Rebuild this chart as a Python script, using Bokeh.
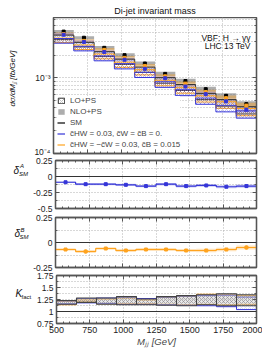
import math
from bokeh.plotting import figure
from bokeh.models import (FixedTicker, LinearAxis, LogAxis, Label, Legend, LegendItem,
                          Range1d, Span, CustomJSTickFormatter)
from bokeh.layouts import column, row
from bokeh.embed import file_html
from bokeh.resources import INLINE

# ---------------- data ----------------
edges = [500, 650, 800, 950, 1100, 1250, 1400, 1550, 1700, 1850, 2000]

# main panel: d sigma / d Mjj  [fb/GeV]
sm_nlo = [4.1e-3, 3.4e-3, 2.5e-3, 2.0e-3, 1.55e-3, 1.13e-3, 9.1e-4, 7.1e-4, 5.8e-4, 4.5e-4]
hw_nlo = [3.73e-3, 2.99e-3, 2.2e-3, 1.74e-3, 1.32e-3, 9.9e-4, 7.7e-4, 6.1e-4, 4.9e-4, 3.8e-4]
hwb_nlo = [3.81e-3, 3.09e-3, 2.35e-3, 1.84e-3, 1.44e-3, 1.05e-3, 8.4e-4, 6.5e-4, 5.4e-4, 4.3e-4]
sm_lo = [3.45e-3, 2.76e-3, 2.07e-3, 1.64e-3, 1.29e-3, 9.3e-4, 7.5e-4, 5.7e-4, 4.7e-4, 3.75e-4]
hw_lo = [3.1e-3, 2.45e-3, 1.82e-3, 1.43e-3, 1.1e-3, 8.2e-4, 6.4e-4, 4.95e-4, 3.95e-4, 3.3e-4]
hwb_lo = [3.15e-3, 2.55e-3, 1.93e-3, 1.5e-3, 1.19e-3, 8.6e-4, 6.9e-4, 5.3e-4, 4.4e-4, 3.55e-4]
nlo_unc = [0.05, 0.05, 0.055, 0.06, 0.06, 0.065, 0.07, 0.075, 0.08, 0.09]   # relative band
lo_unc = [0.07, 0.07, 0.075, 0.08, 0.08, 0.085, 0.09, 0.095, 0.1, 0.11]
stat_err = [0.02, 0.02, 0.025, 0.025, 0.03, 0.03, 0.035, 0.04, 0.045, 0.05]

# ratio panels
delta_a = [-0.09, -0.12, -0.12, -0.13, -0.15, -0.12, -0.15, -0.14, -0.16, -0.15]
delta_a_unc = [0.012, 0.015, 0.015, 0.015, 0.018, 0.02, 0.02, 0.02, 0.022, 0.025]
delta_a_err = [0.015, 0.02, 0.02, 0.015, 0.015, 0.02, 0.015, 0.02, 0.02, 0.025]
delta_b = [-0.07, -0.09, -0.06, -0.08, -0.07, -0.07, -0.08, -0.08, -0.07, -0.05]
delta_b_unc = [0.012, 0.015, 0.012, 0.015, 0.015, 0.015, 0.015, 0.018, 0.018, 0.02]
delta_b_err = [0.015, 0.02, 0.01, 0.015, 0.015, 0.012, 0.015, 0.015, 0.015, 0.02]

# K factor panel (scale-uncertainty boxes)
k_sm_lo = [1.15, 1.19, 1.15, 1.14, 1.14, 1.13, 1.12, 1.14, 1.12, 1.12]
k_sm_hi = [1.23, 1.28, 1.28, 1.31, 1.26, 1.31, 1.33, 1.35, 1.37, 1.35]
k_hw_lo = [1.16, 1.18, 1.17, 1.15, 1.15, 1.14, 1.13, 1.12, 1.10, 1.04]
k_hw_hi = [1.22, 1.27, 1.28, 1.30, 1.27, 1.30, 1.32, 1.33, 1.34, 1.30]
k_hwb_lo = [1.14, 1.20, 1.16, 1.16, 1.16, 1.15, 1.14, 1.15, 1.14, 1.15]
k_hwb_hi = [1.21, 1.24, 1.26, 1.28, 1.24, 1.30, 1.32, 1.36, 1.35, 1.33]

x_major = [500, 750, 1000, 1250, 1500, 1750, 2000]
x_minor = list(range(500, 2001, 50))

# ---------------- style ----------------
FONT = "Liberation Sans"
BLUE = "#3535d8"
ORANGE = "#ffa31f"
GREY = "#777777"
AX = "#555555"
GRID = "#b0b0b0"
TOTAL_W = 262
FRAME_LEFT = 53      # frame left edge on the page
FRAME_RIGHT_PAD = 6

left = edges[:-1]
right = edges[1:]
centers = [(a + b) / 2 for a, b in zip(left, right)]


def lin_fmt():
    return CustomJSTickFormatter(code="return String(Math.round(tick*1000)/1000);")


def log_fmt():
    return CustomJSTickFormatter(code="""
const e = Math.round(Math.log10(tick));
const m = {'-':'\u207b','0':'\u2070','1':'\u00b9','2':'\u00b2','3':'\u00b3','4':'\u2074',
           '5':'\u2075','6':'\u2076','7':'\u2077','8':'\u2078','9':'\u2079'};
return '10' + String(e).split('').map(c => m[c]).join('');
""")


def blank_fmt():
    return CustomJSTickFormatter(code="return '';")


def cfg_axis(ax, ticker, show, fmt, size="8.5px"):
    ax.ticker = ticker
    ax.axis_line_color = AX
    ax.axis_line_width = 1.3
    ax.major_tick_in = 4
    ax.major_tick_out = 0
    ax.minor_tick_in = 2
    ax.minor_tick_out = 0
    ax.major_tick_line_color = AX
    ax.minor_tick_line_color = AX
    ax.major_label_standoff = 3 if show else 0
    ax.major_label_text_font = FONT
    ax.major_label_text_font_size = size if show else "1px"
    ax.major_label_text_color = "#222222"
    ax.formatter = fmt if show else blank_fmt()


def make_fig(label_w, height, yrange, ylog, ytick, ytick_minor, top, bottom,
             xlabels=False, top_axis=True):
    p = figure(width=TOTAL_W - label_w, height=height, x_range=Range1d(500, 2000),
               y_range=yrange, y_axis_type="log" if ylog else "linear", title=None,
               output_backend="svg", toolbar_location=None,
               min_border_left=FRAME_LEFT - label_w, min_border_right=FRAME_RIGHT_PAD,
               min_border_top=top, min_border_bottom=bottom)
    p.outline_line_color = AX
    p.outline_line_width = 1.3
    bottom_ax = p.xaxis[0]
    cfg_axis(bottom_ax, FixedTicker(ticks=x_major, minor_ticks=x_minor), xlabels, lin_fmt(), "9px")
    cfg_axis(p.yaxis[0], FixedTicker(ticks=ytick, minor_ticks=ytick_minor), True,
             log_fmt() if ylog else lin_fmt())
    if top_axis:
        top_ax = LinearAxis()
        cfg_axis(top_ax, FixedTicker(ticks=x_major, minor_ticks=x_minor), False, None)
        p.add_layout(top_ax, "above")
    r_ax = LogAxis() if ylog else LinearAxis()
    cfg_axis(r_ax, FixedTicker(ticks=ytick, minor_ticks=ytick_minor), False, None)
    p.add_layout(r_ax, "right")
    p.xgrid.ticker = FixedTicker(ticks=x_major)
    p.xgrid.grid_line_color = GRID
    p.xgrid.grid_line_dash = "1 2"
    p.ygrid.ticker = FixedTicker(ticks=ytick, minor_ticks=ytick_minor)
    p.ygrid.grid_line_color = GRID
    p.ygrid.grid_line_dash = "1 2"
    p.ygrid.minor_grid_line_color = GRID
    p.ygrid.minor_grid_line_dash = "1 2"
    return p, bottom_ax


def blank_fig(width, height):
    f = figure(width=width, height=height, x_range=Range1d(0, 1), y_range=Range1d(0, 1),
               title=None, output_backend="svg", toolbar_location=None,
               x_axis_location=None, y_axis_location=None,
               min_border_left=0, min_border_right=0, min_border_top=0, min_border_bottom=0)
    f.outline_line_color = None
    f.xgrid.visible = False
    f.ygrid.visible = False
    return f


def scaled(vals, rel, sign):
    return [v * (1 + sign * r) for v, r in zip(vals, rel)]


def shifted(vals, d, sign):
    return [v + sign * e for v, e in zip(vals, d)]


def lab(p, x, y, text, size, style="normal", align="left", baseline="middle", angle=0.0):
    p.add_layout(Label(x=x, y=y, x_units="screen", y_units="screen", text=text,
                       text_align=align, text_baseline=baseline, text_font=FONT,
                       text_font_size=size, text_font_style=style, angle=angle,
                       text_color="#111111"))


# ---------------- title strip ----------------
t_fig = blank_fig(TOTAL_W, 17)
lab(t_fig, 154.5, 6.5, "Di-jet invariant mass", "9px", align="center", baseline="middle")

# ---------------- main panel ----------------
W1 = 30
log_minor = [2e-4, 3e-4, 4e-4, 5e-4, 6e-4, 7e-4, 8e-4, 9e-4, 2e-3, 3e-3, 4e-3, 5e-3, 6e-3]
p1, _ = make_fig(W1, 139, Range1d(1e-4, 6.3e-3), True, [1e-4, 1e-3], log_minor, 0, 3,
                 top_axis=False)

r_sm_nlo = p1.quad(left=left, right=right, bottom=scaled(sm_nlo, nlo_unc, -1),
                   top=scaled(sm_nlo, nlo_unc, 1), fill_color=GREY, fill_alpha=0.6, line_color=None)
p1.quad(left=left, right=right, bottom=scaled(hwb_nlo, nlo_unc, -1),
        top=scaled(hwb_nlo, nlo_unc, 1), fill_color=ORANGE, fill_alpha=0.4, line_color=None)
p1.quad(left=left, right=right, bottom=scaled(hw_nlo, nlo_unc, -1),
        top=scaled(hw_nlo, nlo_unc, 1), fill_color=BLUE, fill_alpha=0.3, line_color=None)

r_sm_lo = p1.quad(left=left, right=right, bottom=scaled(sm_lo, lo_unc, -1),
                  top=scaled(sm_lo, lo_unc, 1), fill_alpha=0, line_color="#333333",
                  line_width=1, hatch_pattern="x", hatch_color="#888888",
                  hatch_scale=4, hatch_weight=0.5)
p1.quad(left=left, right=right, bottom=scaled(hwb_lo, lo_unc, -1),
        top=scaled(hwb_lo, lo_unc, 1), fill_alpha=0, line_color=ORANGE,
        line_width=1, hatch_pattern="x", hatch_color=ORANGE, hatch_scale=4, hatch_weight=0.5)
p1.quad(left=left, right=right, bottom=scaled(hw_lo, lo_unc, -1),
        top=scaled(hw_lo, lo_unc, 1), fill_alpha=0, line_color=BLUE,
        line_width=1, hatch_pattern="x", hatch_color=BLUE, hatch_alpha=0.6,
        hatch_scale=4, hatch_weight=0.5)

r_sm_err = p1.segment(x0=centers, x1=centers, y0=scaled(sm_nlo, stat_err, -1),
                      y1=scaled(sm_nlo, stat_err, 1), line_color="black", line_width=1.2)
p1.scatter(x=centers, y=sm_nlo, marker="square", size=3, color="black")
r_hwb_err = p1.segment(x0=centers, x1=centers, y0=scaled(hwb_nlo, stat_err, -1),
                       y1=scaled(hwb_nlo, stat_err, 1), line_color=ORANGE, line_width=1.2)
p1.scatter(x=centers, y=hwb_nlo, marker="square", size=3, color=ORANGE)
r_hw_err = p1.segment(x0=centers, x1=centers, y0=scaled(hw_nlo, stat_err, -1),
                      y1=scaled(hw_nlo, stat_err, 1), line_color=BLUE, line_width=1.2)
p1.scatter(x=centers, y=hw_nlo, marker="square", size=3, color=BLUE)

legend = Legend(items=[
    LegendItem(label="LO+PS", renderers=[r_sm_lo]),
    LegendItem(label="NLO+PS", renderers=[r_sm_nlo]),
    LegendItem(label="SM", renderers=[r_sm_err]),
    LegendItem(label="c\u0303HW = 0.03, c\u0303W = c\u0303B = 0.", renderers=[r_hw_err]),
    LegendItem(label="c\u0303HW = \u2212c\u0303W = 0.03, c\u0303B = 0.015", renderers=[r_hwb_err]),
], location="bottom_left", glyph_width=8, glyph_height=7, label_height=7, label_standoff=5,
    spacing=2, padding=0, margin=4, label_text_font=FONT, label_text_font_size="8px",
    border_line_alpha=0, background_fill_color="white", background_fill_alpha=1)
p1.add_layout(legend)

lab(p1, 197, 116, "VBF: H \u2192 \u03b3\u03b3", "8.5px", align="right", baseline="alphabetic")
lab(p1, 197, 108, "LHC 13 TeV", "8.5px", align="right", baseline="alphabetic")

# label strips share the frame (top/bottom) of the panel next to them
l1 = blank_fig(W1, 139)
lab(l1, 12, 75, "d\u03c3/dM\u2c7c\u2c7c [fb/GeV]", "8px", style="italic", align="center",
    angle=math.pi / 2)

# ---------------- delta A panel ----------------
W2 = 30
p2, _ = make_fig(W2, 56, Range1d(-0.5, 0.25), False, [-0.5, -0.25, 0, 0.25],
                 [-0.375, -0.125, 0.125], 4, 4)
p2.add_layout(Span(location=0, dimension="width", line_color="#333333", line_width=1))
p2.quad(left=left, right=right, bottom=shifted(delta_a, delta_a_unc, -1),
        top=shifted(delta_a, delta_a_unc, 1), fill_color=BLUE, fill_alpha=0.25, line_color=None)
p2.step(x=edges, y=delta_a + [delta_a[-1]], mode="after", line_color=BLUE, line_width=1.2)
p2.segment(x0=centers, x1=centers, y0=shifted(delta_a, delta_a_err, -1),
           y1=shifted(delta_a, delta_a_err, 1), line_color=BLUE, line_width=1.2)
p2.scatter(x=centers, y=delta_a, marker="square", size=3, color=BLUE)
l2 = blank_fig(W2, 56)
lab(l2, 13, 38, "\u03b4", "10px", style="italic")
lab(l2, 19.5, 43, "A", "6px", style="italic")
lab(l2, 18.5, 35, "SM", "6px", style="italic")

# ---------------- delta B panel ----------------
W3 = 30
p3, _ = make_fig(W3, 59, Range1d(-0.25, 0.25), False, [-0.25, 0, 0.25], [-0.125, 0.125], 5, 4)
p3.add_layout(Span(location=0, dimension="width", line_color="#333333", line_width=1))
p3.quad(left=left, right=right, bottom=shifted(delta_b, delta_b_unc, -1),
        top=shifted(delta_b, delta_b_unc, 1), fill_color=ORANGE, fill_alpha=0.3, line_color=None)
p3.step(x=edges, y=delta_b + [delta_b[-1]], mode="after", line_color=ORANGE, line_width=1.2)
p3.segment(x0=centers, x1=centers, y0=shifted(delta_b, delta_b_err, -1),
           y1=shifted(delta_b, delta_b_err, 1), line_color=ORANGE, line_width=1.2)
p3.scatter(x=centers, y=delta_b, marker="square", size=3, color=ORANGE)
l3 = blank_fig(W3, 59)
lab(l3, 14, 34, "\u03b4", "10px", style="italic")
lab(l3, 20, 38, "B", "6px", style="italic")
lab(l3, 19, 31, "SM", "6px", style="italic")

# ---------------- K factor panel ----------------
W4 = 33
p4, x4 = make_fig(W4, 80, Range1d(0.75, 1.75), False, [0.75, 1, 1.25, 1.5, 1.75],
                  [0.875, 1.125, 1.375, 1.625], 4, 28, xlabels=True)
p4.add_layout(Span(location=1, dimension="width", line_color="#333333", line_width=1))
p4.quad(left=left, right=right, bottom=k_hwb_lo, top=k_hwb_hi, fill_alpha=0,
        line_color=ORANGE, line_width=1, hatch_pattern="x", hatch_color=ORANGE,
        hatch_alpha=0.3, hatch_scale=4, hatch_weight=0.5)
p4.quad(left=left, right=right, bottom=k_hw_lo, top=k_hw_hi, fill_alpha=0,
        line_color=BLUE, line_width=1, hatch_pattern="x", hatch_color=BLUE,
        hatch_alpha=0.3, hatch_scale=4, hatch_weight=0.5)
p4.quad(left=left, right=right, bottom=k_sm_lo, top=k_sm_hi, fill_color="#c4c4c4",
        fill_alpha=0.4, line_color="#444444", line_width=1.1, hatch_pattern="x",
        hatch_color="#8a8a8a", hatch_scale=4, hatch_weight=0.5)
x4.axis_label = "M\u2c7c\u2c7c [GeV]"
x4.axis_label_text_font = FONT
x4.axis_label_text_font_size = "9.5px"
x4.axis_label_text_font_style = "italic"
x4.axis_label_standoff = 0
l4 = blank_fig(W4, 80)
lab(l4, 15, 30, "K", "10px", style="italic")
lab(l4, 21, 27, "fact", "6px")

layout = column(t_fig, row(l1, p1, spacing=0), row(l2, p2, spacing=0),
                row(l3, p3, spacing=0), row(l4, p4, spacing=0), spacing=0)
open("out.html", "w").write(file_html(layout, INLINE))
